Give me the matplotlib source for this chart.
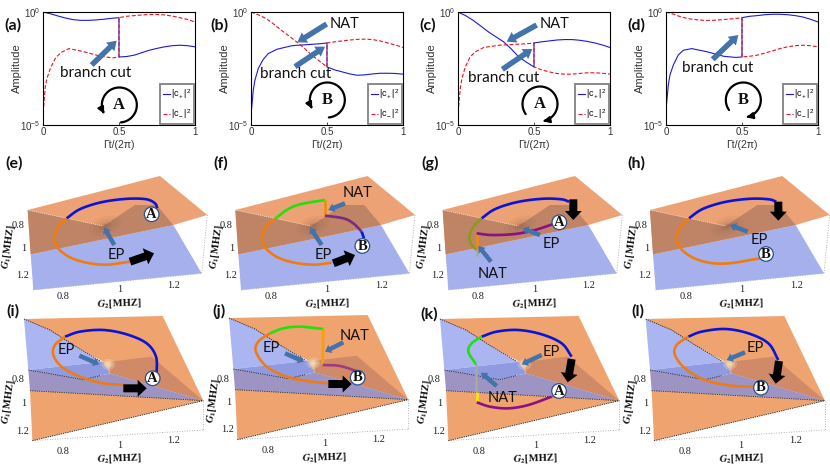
import numpy as np
import matplotlib
matplotlib.use("Agg")
import matplotlib.pyplot as plt
from matplotlib.path import Path
from matplotlib.patches import Polygon, Ellipse, Circle, FancyArrow, FancyArrowPatch

# log10 of amplitude (a)-(d)
t_rise = [.004, .015, .026, .048, .08, .114, .17, .27, .38, .46, .5,
          .5, .55, .6, .65, .7, .75, .8, .85, .9, .95, 1]
t_flat = [0, .05, .1, .15, .2, .25, .3, .35, .4, .45, .5,
          .5, .55, .6, .65, .7, .75, .8, .85, .9, .95, 1]

a_plus = [0, -.08, -.18, -.27, -.34, -.37, -.37, -.35, -.32, -.28, -.25,
          -1.99, -1.97, -1.91, -1.8, -1.69, -1.61, -1.54, -1.49, -1.47, -1.49, -1.54]
a_minus = [-4.19, -3.31, -2.94, -2.5, -2.06, -1.81, -1.62, -1.76, -1.96, -2.03, -1.99,
           -.25, -.19, -.16, -.13, -.11, -.11, -.13, -.18, -.25, -.33, -.44]
b_plus = [-4.26, -3.46, -3.01, -2.5, -2.1, -1.84, -1.65, -1.49, -1.44, -1.4, -1.37,
          -2.43, -2.56, -2.65, -2.74, -2.8, -2.78, -2.74, -2.71, -2.71, -2.72, -2.75]
b_minus = [0, -.13, -.29, -.54, -.81, -1.06, -1.32, -1.6, -1.91, -2.17, -2.43,
           -1.37, -1.32, -1.28, -1.24, -1.21, -1.2, -1.22, -1.28, -1.37, -1.46, -1.57]
c_plus = [0, -.16, -.37, -.62, -.88, -1.1, -1.32, -1.63, -1.99, -2.22, -2.43,
          -1.37, -1.32, -1.28, -1.24, -1.22, -1.22, -1.25, -1.3, -1.37, -1.46, -1.57]
c_minus = [-4.19, -3.38, -2.94, -2.43, -1.99, -1.76, -1.57, -1.47, -1.43, -1.4, -1.37,
           -2.43, -2.56, -2.65, -2.72, -2.75, -2.75, -2.72, -2.69, -2.69, -2.71, -2.75]
d_plus = [-4.04, -3.24, -2.79, -2.35, -1.91, -1.69, -1.62, -1.76, -1.96, -2.01, -1.99,
          -.25, -.19, -.16, -.12, -.10, -.10, -.12, -.16, -.22, -.32, -.44]
d_minus = [0, -.1, -.22, -.3, -.34, -.37, -.37, -.35, -.32, -.29, -.26,
           -1.99, -1.96, -1.91, -1.82, -1.72, -1.62, -1.54, -1.49, -1.47, -1.49, -1.54]

x_ticks = [0, 0.5, 1]
x_tick_labels = ["0", "0.5", "1"]
panel_left = [43, 251, 458, 666]

plt.rcParams["font.family"] = ["Liberation Sans", "DejaVu Sans"]
plt.rcParams["mathtext.fontset"] = "custom"
plt.rcParams["mathtext.rm"] = "Liberation Sans"
plt.rcParams["mathtext.it"] = "Liberation Sans:italic"

W, H = 830, 467
fig = plt.figure(figsize=(8.3, 4.67), dpi=100)

series = [(t_flat, a_plus, t_rise, a_minus),
          (t_rise, b_plus, t_flat, b_minus),
          (t_flat, c_plus, t_rise, c_minus),
          (t_rise, d_plus, t_flat, d_minus)]

for left, (t1, y1, t2, y2) in zip(panel_left, series):
    ax = fig.add_axes([left / W, 1 - 125 / H, 152 / W, 113 / H])
    ax.plot(t1, 10 ** np.array(y1), color="#1a1ae0", lw=0.8, label="|c$_+$|$^2$")
    ax.plot(t2, 10 ** np.array(y2), color="#e8141c", lw=0.8, ls=(0, (3.5, 1.8)), label="|c$_-$|$^2$")
    ax.set_yscale("log")
    ax.set_xlim(0, 1)
    ax.set_ylim(1e-5, 1)
    ax.minorticks_off()
    ax.set_yticks([1e-5, 1], ["10$^{-5}$", "10$^{0}$"])
    ax.set_xticks(x_ticks, x_tick_labels)
    ax.tick_params(labelsize=7, length=2, width=0.6, pad=1.5, colors="#333333", direction="in")
    ax.set_xlabel("Γt/(2π)", fontsize=7.5, color="#333333", labelpad=2)
    ax.set_ylabel("Amplitude", fontsize=8, color="#333333")
    ax.yaxis.set_label_coords(-0.14, 0.5)
    for s in ax.spines.values():
        s.set_linewidth(0.8)
    leg = ax.legend(loc="lower right", bbox_to_anchor=(0.995, 0.01), fontsize=6.5, fancybox=False,
                    edgecolor="#8a8a8a", framealpha=1, handlelength=0.8, handletextpad=0.1,
                    labelspacing=0.75, borderpad=0.3, borderaxespad=0)
    leg.get_frame().set_linewidth(1.4)

# overlay in pixel coordinates for the picture-like panels
ov = fig.add_axes([0, 0, 1, 1], zorder=10)
ov.set_xlim(0, W)
ov.set_ylim(H, 0)
ov.axis("off")

# surface outlines (zoomed crop units, 3 per pixel)
row2_back = [(83, 180), (480, 78), (622, 195), (520, 225), (92, 313)]
row2_shade = [(83, 180), (310, 228), (405, 165), (470, 165), (520, 225), (92, 313)]
row2_plane = [(92, 313), (520, 225), (605, 370), (100, 420)]
row3_back = [(72, 42), (488, 33), (610, 287), (330, 205), (310, 170)]
row3_lobe = [(72, 42), (150, 75), (220, 120), (300, 168), (310, 170), (85, 195)]
row3_lobe_edge = [(72, 42), (150, 75), (220, 120), (300, 168)]
row3_front = [(85, 195), (310, 170), (330, 205), (300, 212), (250, 224), (160, 208)]
row3_front_edge = [(85, 195), (160, 208), (250, 224), (300, 212)]
row3_band = [(85, 195), (160, 208), (250, 224), (300, 212), (330, 205), (610, 287), (90, 257)]
row3_brown = [(330, 170), (455, 155), (610, 287), (330, 205)]
row3_lower = [(90, 257), (610, 287), (97, 407)]

ORANGE = "#eca274"
BROWN = "#bf8466"
BLUE = "#a6b0ec"
ARROW = "#4473ab"
LOOP_BLUE = "#0a14d8"
LOOP_ORANGE = "#f07c10"
LOOP_GREEN = "#22e010"
LOOP_PURPLE = "#8a1088"


def pts(p, ox, oy):
    return [(ox + x / 3, oy + y / 3) for x, y in p]


def poly(p, ox, oy, color, z=1):
    ov.add_patch(Polygon(pts(p, ox, oy), closed=True, fc=color, ec="none", zorder=z))


def spline(q):
    # Catmull-Rom through the hand placed points, only to round the drawn loop
    q = np.array(q, dtype=float)
    if len(q) < 3:
        return q
    p = np.vstack([2 * q[0] - q[1], q, 2 * q[-1] - q[-2]])
    out = []
    for i in range(1, len(p) - 2):
        for u in np.linspace(0, 1, 12, endpoint=False):
            out.append(0.5 * (2 * p[i] + (p[i + 1] - p[i - 1]) * u
                              + (2 * p[i - 1] - 5 * p[i] + 4 * p[i + 1] - p[i + 2]) * u ** 2
                              + (3 * p[i] - p[i - 1] - 3 * p[i + 1] + p[i + 2]) * u ** 3))
    out.append(q[-1])
    return np.array(out)


def curve(p, ox, oy, color, lw=1.9, z=4):
    q = spline(pts(p, ox, oy))
    ov.plot(q[:, 0], q[:, 1], color=color, lw=lw, solid_capstyle="butt", solid_joinstyle="round", zorder=z)


def arrow(a, b, ox, oy, color=ARROW, width=5.5, head=12, hl=9, z=6):
    (x0, y0), (x1, y1) = pts([a, b], ox, oy)
    ov.add_patch(FancyArrow(x0, y0, x1 - x0, y1 - y0, width=width, head_width=head, head_length=hl,
                            length_includes_head=True, fc=color, ec="none", zorder=z))


def small_arrow(a, b, ox, oy):
    arrow(a, b, ox, oy, width=4.5, head=9, hl=6)


def black_arrow(a, b, ox, oy):
    arrow(a, b, ox, oy, color="black", width=8, head=17, hl=9)


def label(s, at, ox, oy, size=10.5):
    x, y = pts([at], ox, oy)[0]
    ov.text(x, y, s, family="Lato", fontsize=size, ha="center", va="center", color="#111111", zorder=7)


def dotted(p, ox, oy):
    q = np.array(pts(p, ox, oy))
    ov.plot(q[:, 0], q[:, 1], color="#999999", lw=0.6, ls=(0, (1, 2)), zorder=0.5)


def badge(s, at, ox, oy):
    x, y = pts([at], ox, oy)[0]
    ov.add_patch(Circle((x, y), 7.3, fc="white", ec="#2c4f86", lw=0.9, zorder=8))
    ov.text(x, y + 0.3, s, family="Liberation Serif", fontweight="bold", fontsize=10.5, ha="center", va="center",
            color="#111111", zorder=9)


def axis_text(ox, oy):
    for s, at in zip(["0.8", "1", "1.2"], [(190, 440), (358, 420), (522, 407)]):
        xx, yy = pts([at], ox, oy)[0]
        ov.text(xx, yy, s, family="Liberation Serif", fontsize=7.5, ha="center", va="center", color="#222222")
    xx, yy = pts([(357, 462)], ox, oy)[0]
    ov.text(xx, yy, r"$\mathbfit{G}_{\mathbf{2}}$[MHZ]", family="Liberation Serif", fontsize=7.5, fontweight="bold",
            ha="center", va="center", rotation=2, color="#111111", math_fontfamily="stix")
    for s, at in zip(["0.8", "1", "1.2"], [(55, 225), (72, 295), (68, 378)]):
        xx, yy = pts([at], ox, oy)[0]
        ov.text(xx, yy, s, family="Liberation Serif", fontsize=7.5, ha="center", va="center", color="#222222")
    xx, yy = pts([(27, 292)], ox, oy)[0]
    ov.text(xx, yy, r"$\mathbfit{G}_{\mathbf{1}}$[MHZ]", family="Liberation Serif", fontsize=7.5, fontweight="bold",
            ha="center", va="center", rotation=82, color="#111111", math_fontfamily="stix")


def surface_row2(dx, ox, oy=150):
    x = ox + dx / 3
    dotted([(622, 195), (605, 370)], x, oy)
    dotted([(100, 420), (605, 370)], x, oy)
    poly(row2_plane, x, oy, BLUE, 1)
    poly(row2_back, x, oy, ORANGE, 1.1)
    poly(row2_shade, x, oy, BROWN, 1.2)
    ex, ey = pts([(315, 228)], x, oy)[0]
    for w, a in [(34, .06), (24, .08), (14, .12), (7, .2)]:
        ov.add_patch(Ellipse((ex, ey), w, w * 0.55, angle=-20, fc="#7a5040", ec="none", alpha=a, zorder=1.3))
    q = np.array(pts([(83, 180), (310, 228)], x, oy))
    ov.plot(q[:, 0], q[:, 1], color="#f5d5c0", lw=0.6, ls=(0, (1.5, 1)), zorder=1.4)
    axis_text(x, oy)


def surface_row3(dx, dy, ox, oy=305):
    x, y = ox + dx / 3, oy + dy / 3
    dotted([(97, 407), (610, 375)], x, y)
    dotted([(610, 287), (610, 375)], x, y)
    poly(row3_back, x, y, "#efa470", 1)
    poly(row3_lobe, x, y, "#abb5f2", 1.1)
    poly(row3_brown, x, y, "#d08a68", 1.2)
    poly(row3_front, x, y, "#8f9ae0", 1.3)
    poly(row3_band, x, y, "#9d94c4", 1.4)
    poly(row3_lower, x, y, "#efa470", 1.5)
    gx, gy = pts([(325, 178)], x, y)[0]
    for w, a in [(14, .25), (9, .4), (4, .6)]:
        ov.add_patch(Ellipse((gx, gy), w, w * .8, fc="#f3e4c0", ec="none", alpha=a, zorder=1.6))
    for edge in (row3_lobe_edge, row3_front_edge, [(90, 257), (610, 287)], [(97, 407), (610, 287)]):
        q = np.array(pts(edge, x, y))
        ov.plot(q[:, 0], q[:, 1], color="#222222", lw=0.6, ls=(0, (1.5, 1.2)), zorder=1.8)
    axis_text(x, y)


# top row annotations
arrow((275, 195), (350, 122), 0, 0)
label("branch cut", (288, 218), 0, 0, 11)
arrow((980, 72), (892, 127), 0, 0)
label("NAT", (1035, 72), 0, 0)
arrow((885, 200), (975, 140), 0, 0)
label("branch cut", (888, 222), 0, 0, 11)
arrow((365, 75), (275, 125), 415, 0)
label("NAT", (418, 72), 415, 0)
arrow((262, 208), (352, 147), 415, 0)
label("branch cut", (265, 233), 415, 0, 11)
arrow((893, 178), (970, 105), 415, 0)
label("branch cut", (908, 205), 415, 0, 11)

# encircling direction sketches: centre, letter, crop origin, start and end angle
loops = [((358, 315), "A", 0, 85, -210),
         ((982, 300), "B", 0, 85, -210),
         ((375, 312), "A", 415, 145, 440),
         ((985, 300), "B", 415, 145, 440)]
for c, s, ox, a0, a1 in loops:
    cx, cy = pts([c], ox, 0)[0]
    th = np.radians(np.linspace(a0, a1, 60))
    v = np.column_stack([cx + 17.5 * np.cos(th), cy + 17.5 * np.sin(th)])
    ov.add_patch(FancyArrowPatch(path=Path(v), arrowstyle="-|>", mutation_scale=9, lw=1.6, color="black",
                                 transform=ov.transData, zorder=6))
    ov.text(cx, cy, s, family="Liberation Serif", fontweight="bold", fontsize=12, ha="center", va="center",
            color="#111111", zorder=7)

# row 2
surface_row2(0, 0)
surface_row2(623, 0)
surface_row2(0, 415)
surface_row2(622, 415)

curve([(200, 205), (235, 180), (280, 163), (330, 152), (390, 146), (440, 148), (465, 160), (472, 175)], 0, 150, LOOP_BLUE)
curve([(200, 205), (175, 230), (163, 262), (175, 295), (210, 322), (260, 338), (320, 344), (390, 335)], 0, 150, LOOP_ORANGE)
badge("A", (455, 193), 0, 150)
label("EP", (350, 315), 0, 150)
small_arrow((343, 285), (312, 232), 0, 150)
black_arrow((390, 335), (462, 310), 0, 150)

curve([(825, 207), (860, 180), (900, 163), (975, 150)], 0, 150, LOOP_GREEN)
curve([(975, 150), (975, 197)], 0, 150, "#e8900c")
curve([(975, 197), (1030, 205), (1060, 220), (1085, 245)], 0, 150, "#7a2a80")
curve([(1085, 245), (1092, 265)], 0, 150, LOOP_BLUE)
curve([(825, 207), (798, 230), (786, 262), (798, 295), (833, 322), (883, 338), (943, 344), (995, 338)], 0, 150, LOOP_ORANGE)
badge("B", (1087, 288), 0, 150)
label("NAT", (1072, 130), 0, 150)
small_arrow((1035, 160), (985, 180), 0, 150)
label("EP", (970, 315), 0, 150)
small_arrow((965, 285), (930, 232), 0, 150)
black_arrow((1000, 340), (1065, 315), 0, 150)

curve([(200, 205), (235, 180), (280, 163), (330, 152), (390, 146), (440, 148), (462, 155)], 415, 150, LOOP_BLUE)
curve([(200, 205), (175, 230), (163, 262), (170, 285), (185, 300)], 415, 150, "#8a9a20")
curve([(185, 318), (185, 300)], 415, 150, "#a8a8a0")
curve([(185, 300), (185, 250)], 415, 150, "#e8900c")
curve([(185, 250), (230, 255), (300, 252), (360, 240), (415, 222)], 415, 150, LOOP_PURPLE)
badge("A", (433, 217), 415, 150)
black_arrow((475, 148), (475, 210), 415, 150)
label("EP", (408, 283), 415, 150)
small_arrow((375, 255), (322, 235), 415, 150)
label("NAT", (232, 372), 415, 150)
small_arrow((228, 335), (190, 288), 415, 150)

curve([(822, 205), (857, 180), (902, 163), (952, 152), (1012, 146), (1062, 148), (1084, 155)], 415, 150, LOOP_BLUE)
curve([(822, 205), (797, 230), (785, 262), (797, 295), (832, 322), (882, 338), (942, 340), (1035, 325)], 415, 150, LOOP_ORANGE)
badge("B", (1053, 312), 415, 150)
black_arrow((1090, 155), (1090, 212), 415, 150)
label("EP", (1032, 270), 415, 150)
small_arrow((998, 245), (945, 225), 415, 150)

# row 3
surface_row3(0, 0, 0)
surface_row3(615, -3, 0)
surface_row3(3, 0, 415)
surface_row3(620, 0, 415)

curve([(195, 95), (240, 80), (310, 75), (380, 88), (440, 115), (468, 155), (470, 205)], 0, 305, LOOP_BLUE)
curve([(195, 95), (165, 120), (160, 150), (185, 185), (240, 215), (310, 235), (380, 240)], 0, 305, LOOP_ORANGE)
badge("A", (458, 220), 0, 305)
black_arrow((370, 250), (440, 250), 0, 305)
label("EP", (198, 135), 0, 305)
small_arrow((238, 152), (298, 178), 0, 305)

curve([(810, 85), (850, 70), (900, 65), (970, 72)], 0, 305, LOOP_GREEN)
curve([(970, 72), (968, 180)], 0, 305, "#f0a010")
curve([(968, 180), (1020, 183), (1075, 200)], 0, 305, "#a03a80")
curve([(810, 85), (775, 110), (768, 140), (800, 185), (860, 215), (920, 228), (985, 235)], 0, 305, LOOP_ORANGE)
badge("B", (1073, 218), 0, 305)
black_arrow((985, 237), (1055, 237), 0, 305)
label("EP", (815, 128), 0, 305)
small_arrow((855, 145), (912, 170), 0, 305)
label("NAT", (1065, 92), 0, 305)
small_arrow((1030, 112), (975, 140), 0, 305)

curve([(200, 95), (245, 80), (310, 75), (380, 88), (440, 115), (470, 155)], 415, 305, LOOP_BLUE)
curve([(200, 95), (170, 115), (160, 140), (183, 178)], 415, 305, LOOP_GREEN)
curve([(183, 178), (183, 262)], 415, 305, "#a8a8a0")
curve([(185, 262), (185, 292)], 415, 305, "#f5e800")
curve([(185, 292), (225, 305), (280, 310), (340, 300), (410, 275)], 415, 305, LOOP_PURPLE)
badge("A", (432, 258), 415, 305)
black_arrow((470, 162), (458, 232), 415, 305)
label("EP", (408, 140), 415, 305)
small_arrow((380, 150), (320, 178), 415, 305)
label("NAT", (262, 280), 415, 305)
small_arrow((245, 243), (198, 203), 415, 305)

curve([(820, 95), (860, 80), (930, 72), (1000, 85), (1060, 115), (1090, 165)], 415, 305, LOOP_BLUE)
curve([(820, 95), (785, 120), (780, 150), (810, 190), (870, 225), (950, 242), (1015, 245)], 415, 305, LOOP_ORANGE)
badge("B", (1038, 248), 415, 305)
black_arrow((1092, 168), (1082, 236), 415, 305)
label("EP", (1020, 128), 415, 305)
small_arrow((990, 142), (935, 165), 415, 305)

# panel letters
letters = ["(a)", "(b)", "(c)", "(d)", "(e)", "(f)", "(g)", "(h)", "(i)", "(j)", "(k)", "(l)"]
letter_x = [13, 219, 428, 636, 14, 221, 430, 636, 13, 219, 429, 638]
letter_y = [25, 25, 25, 25, 163, 163, 163, 163, 311, 311, 314, 311]
for s, x, y in zip(letters, letter_x, letter_y):
    ov.text(x, y, s, family="Lato", fontweight="bold", fontsize=11.5, ha="center", va="center", color="#111111", zorder=12)

fig.savefig("out.png", dpi=100)
